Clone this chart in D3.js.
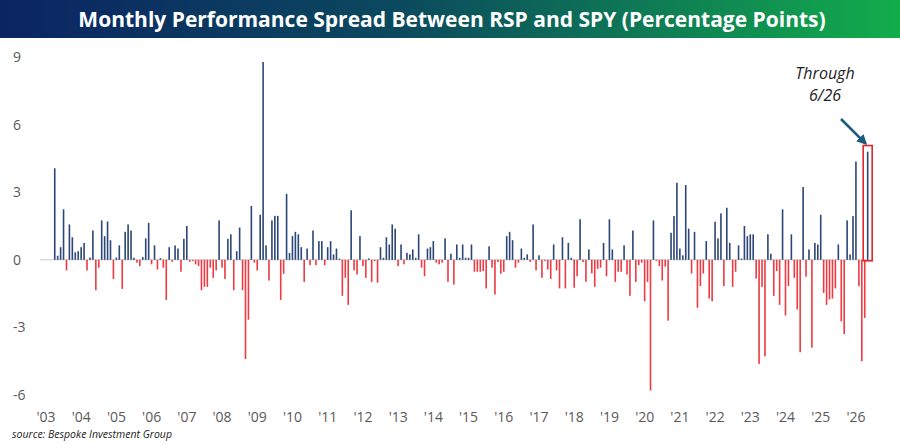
<!DOCTYPE html>
<html>
<head>
<meta charset="utf-8">
<script src="https://cdn.jsdelivr.net/npm/d3@7"></script>
<style>
  body { margin: 0; background: #fff; }
  svg { display: block; font-family: "Open Sans", "Noto Sans", sans-serif; }
</style>
</head>
<body>
<svg id="chart" width="900" height="444"></svg>
<script>
// monthly spread RSP - SPY, May 2003 .. Jun 2026
const spread2003_2006 = [4.06,0.18,0.56,2.24,-0.47,1.57,1.0,0.33,
  0.38,0.56,0.75,-0.47,0.1,1.3,-1.35,-0.35,1.75,1.05,1.7,0.87,
  -0.85,0.1,0.64,-1.29,1.24,1.57,1.3,0.09,-0.13,-0.28,0.12,0.95,
  1.64,-0.2,0.64,-0.43,0.07,-0.35,-1.78,0.56,-0.09,0.64,0.5,-0.53,
  0.93,1.5];
const spread2007_2010 = [-0.09,-0.05,-0.2,-0.28,-1.35,-1.2,-1.2,-0.35,-0.8,-0.47,
  1.75,-0.35,-0.85,0.93,1.13,-1.35,0.38,1.43,-1.35,-4.4,
  -2.66,2.39,-0.13,-0.47,2.0,8.78,0.64,-0.92,1.75,1.95,
  1.95,-1.78,-0.62,2.93,0.3,1.05,1.24,1.13,0.56,-0.98,
  0.5,-0.24,1.3,-0.24,0.83,0.83,-0.24,0.56,0.83];
const spread2011_2014 = [0.24,0.5,0.05,-1.6,-0.8,-2.0,2.2,-0.47,-0.65,1.05,
  -0.28,-0.8,0.06,-0.98,-0.06,-1.02,0.56,0.09,1.0,0.68,
  1.57,1.38,-0.28,0.68,-0.2,0.31,0.24,0.46,0.09,1.13,
  -0.35,-0.73,0.5,0.56,0.83,-0.13,-0.2,-0.13,0.95,-0.98,
  0.27,-1.1,0.68,0.09,0.68,0.09,0.09,0.68,-0.53,-0.53];
const spread2015_2018 = [-0.53,-0.5,-1.27,0.6,-0.35,-1.54,-0.1,-0.62,-0.53,1.05,
  1.24,0.87,-0.35,-0.13,0.5,0.09,0.24,-0.1,1.57,-0.47,
  0.2,-0.8,-0.05,-0.43,-0.85,0.68,-0.47,-1.27,1.0,-1.27,
  0.75,0.09,-1.24,-0.73,1.8,-0.1,-0.98,0.46,-0.6,-1.2,
  -0.4,-0.35,0.75,-0.73,1.8,0.46,-0.98,-0.53,-0.53,0.64];
const spread2019_2023 = [-0.65,-1.6,1.3,-0.98,-0.24,-0.13,-1.84,-0.98,-5.8,1.75,
  -0.05,-0.28,-0.92,-0.3,-2.7,1.2,1.94,3.42,0.5,0.2,
  3.32,1.38,-0.61,1.24,-2.13,-1.17,-0.61,0.83,-1.72,-1.84,
  1.69,0.95,2.06,-1.17,2.31,0.75,-1.2,-0.53,0.64,0.06,
  1.5,1.05,1.13,1.13,-0.83,-4.62,-1.2,-4.28,1.13];
const spread2023_2026 = [0.27,-1.6,-0.5,-2.0,2.24,-2.47,-1.17,1.13,-0.8,-2.2,
  -4.1,3.23,-0.75,0.46,-3.9,0.75,0.68,2.0,-1.47,-2.0,
  -1.76,-1.72,-1.27,0.68,-2.73,-3.3,1.75,0.24,1.94,4.36,
  -1.17,-4.5,-2.58,4.8];
const spread = [].concat(spread2003_2006, spread2007_2010, spread2011_2014,
  spread2015_2018, spread2019_2023, spread2023_2026);

const startOffset = 4;             // first bar is May 2003
const years = d3.range(2003, 2027);
const yTicks = [-6, -3, 0, 3, 6, 9];
const title = "Monthly Performance Spread Between RSP and SPY (Percentage Points)";

const svg = d3.select("#chart");
const W = 900, H = 444;

// title banner
const grad = svg.append("defs").append("linearGradient").attr("id", "bg");
grad.append("stop").attr("offset", "0%").attr("stop-color", "#0b2463");
grad.append("stop").attr("offset", "45%").attr("stop-color", "#0b4a5e");
grad.append("stop").attr("offset", "100%").attr("stop-color", "#12ad4b");
svg.append("rect").attr("x", 0).attr("y", 0).attr("width", W).attr("height", 38)
  .attr("fill", "url(#bg)");
svg.append("text").attr("x", 452).attr("y", 27).attr("text-anchor", "middle")
  .attr("fill", "#fff").attr("font-size", 21).attr("font-weight", "bold")
  .text(title);

// scales: month index -> x
const x = d3.scaleLinear().domain([0, 12 * 23]).range([43, 853]);
const y = d3.scaleLinear().domain([-6, 9]).range([395, 57]);

svg.append("line").attr("x1", 40).attr("x2", 872)
  .attr("y1", y(0)).attr("y2", y(0)).attr("stroke", "#c8c8c8").attr("stroke-width", 1);

svg.append("g").selectAll("rect").data(spread).join("rect")
  .attr("x", (d, i) => x(i + startOffset) - 0.8)
  .attr("width", 1.6)
  .attr("y", d => y(Math.max(0, d)))
  .attr("height", d => Math.abs(y(d) - y(0)))
  .attr("fill", d => d >= 0 ? "#2c4677" : "#ee3a42");

// y axis labels
svg.append("g").selectAll("text").data(yTicks).join("text")
  .attr("x", 13).attr("y", d => y(d) + 5)
  .attr("fill", "#595959").attr("font-size", 14)
  .text(d => d);

// x axis labels
svg.append("g").selectAll("text").data(years).join("text")
  .attr("x", d => x((d - 2003) * 12) + 3).attr("y", 422)
  .attr("text-anchor", "middle").attr("fill", "#595959").attr("font-size", 14)
  .text(d => "'" + String(d).slice(2));

// highlight box around last month + annotation
const last = spread.length - 1;
const lx = x(last + startOffset);
svg.append("rect").attr("x", lx - 4.5).attr("y", y(5.07)).attr("width", 9)
  .attr("height", y(0) - y(5.07) + 1).attr("fill", "none")
  .attr("stroke", "#e0262e").attr("stroke-width", 1.6);
const ann = svg.append("text").attr("text-anchor", "middle").attr("font-style", "italic")
  .attr("font-size", 16).attr("fill", "#222");
ann.append("tspan").attr("x", 825).attr("y", 79).text("Through");
ann.append("tspan").attr("x", 825).attr("y", 101).text("6/26");
svg.append("defs").append("marker").attr("id", "arr").attr("viewBox", "0 0 10 10")
  .attr("refX", 8).attr("refY", 5).attr("markerWidth", 4).attr("markerHeight", 4)
  .attr("orient", "auto").append("path").attr("d", "M0,0 L10,5 L0,10 z").attr("fill", "#1d5a7c");
svg.append("line").attr("x1", 841).attr("y1", 119).attr("x2", lx - 2).attr("y2", y(5.07) - 2)
  .attr("stroke", "#1d5a7c").attr("stroke-width", 2.6).attr("marker-end", "url(#arr)");

svg.append("text").attr("x", 12).attr("y", 438).attr("font-size", 10.5)
  .attr("font-style", "italic").attr("fill", "#222")
  .text("source: Bespoke Investment Group");
</script>
</body>
</html>
